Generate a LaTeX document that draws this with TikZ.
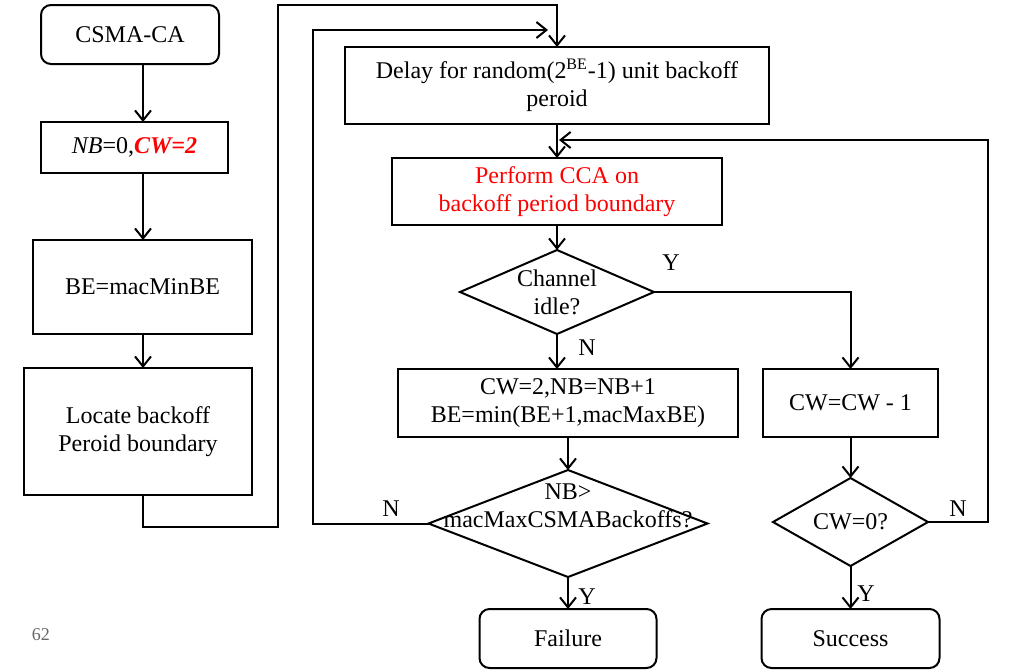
\documentclass[tikz,border=0pt]{standalone}
\usepackage{fontspec}
\setmainfont{Liberation Serif}
\usetikzlibrary{positioning, arrows.meta, shapes.geometric}

\begin{document}
\begin{tikzpicture}[
    x=0.5pt, y=-0.5pt,
    % --- Styles ---
    block/.style={
        rectangle,
        draw=black,
        line width=1pt,
        align=center,
        font=\fontsize{12}{14}\selectfont,
        inner sep=2pt,
        outer sep=0pt
    },
    rblock/.style={
        block,
        rounded corners=5pt
    },
    decision/.style={
        diamond,
        draw=black,
        line width=1pt,
        inner sep=0pt,
        outer sep=0pt
    },
    lbl/.style={
        font=\fontsize{12}{14}\selectfont,
        inner sep=0pt
    },
    arrow/.style={
        -{Straight Barb[length=5pt, width=8pt]},
        line width=1pt
    }
]
\useasboundingbox (0,0) rectangle (1016,671);

% --- Nodes (left column) ---
\node[rblock, minimum width=89pt, minimum height=29.5pt] (start) at (130,34.5) {CSMA-CA};
\node[block, minimum width=93.5pt, minimum height=25.5pt, below=29pt of start, xshift=2.25pt] (init)
    {\textit{NB}=0,\textcolor{red}{\textbf{\textit{CW=2}}}};
\node[block, minimum width=109.5pt, minimum height=47pt, below=33.5pt of init, xshift=4pt] (be) {BE=macMinBE};
\node[block, minimum width=114pt, minimum height=63.5pt, below=17pt of be, xshift=-2.25pt] (locate)
    {Locate backoff\\Peroid boundary};
\coordinate (spine) at (143,0);

% --- Nodes (middle column) ---
\node[block, minimum width=212pt, minimum height=38.5pt] (delay) at (557,85.5)
    {Delay for random(2\textsuperscript{BE}-1) unit backoff\\peroid};
\node[block, minimum width=165pt, minimum height=33.5pt, below=17pt of delay, text=red] (cca)
    {Perform CCA on\\backoff period boundary};
\node[decision, minimum width=97pt, minimum height=42pt, below=12.5pt of cca,
    label={[lbl, align=center]center:Channel\\idle?}] (idle) {};
\node[block, minimum width=170pt, minimum height=34pt, below=17.5pt of idle, xshift=5.5pt] (upd)
    {CW=2,NB=NB+1\\BE=min(BE+1,macMaxBE)};
\node[decision, minimum width=139.5pt, minimum height=53.5pt, below=16.5pt of upd,
    label={[lbl, align=center, yshift=9pt]center:NB>\\macMaxCSMABackoffs?}] (full) {};
\node[rblock, minimum width=88.5pt, minimum height=29.5pt, below=16pt of full] (fail) {Failure};

% --- Nodes (right column) ---
\node[block, minimum width=87.5pt, minimum height=34pt, right=12.5pt of upd] (dec) {CW=CW - 1};
\node[decision, minimum width=77.5pt, minimum height=44pt, below=20.5pt of dec,
    label={[lbl]center:CW=0?}] (zero) {};
\node[rblock, minimum width=89pt, minimum height=29.5pt, below=21.5pt of zero] (succ) {Success};

\coordinate (retry) at (548,30);
\coordinate (join) at (559,140);

% --- Arrows ---
\draw[arrow] (start.south -| spine) -- (init.north -| spine);
\draw[arrow] (init.south -| spine) -- (be.north -| spine);
\draw[arrow] (be.south -| spine) -- (locate.north -| spine);
\draw[arrow] (locate.south -| spine) -- ++(0,32) -| (278,5) -| (delay.north);
\draw[arrow] (delay) -- (cca);
\draw[arrow] (cca) -- (idle);
\draw[arrow] (idle.south) -- (idle.south |- upd.north);
\draw[arrow] (idle.east) -| (dec.north);
\draw[arrow] (upd) -- (full);
\draw[arrow] (full) -- (fail);
\draw[arrow] (full.west) -- ++(-116,0) |- (retry);
\draw[arrow] (dec) -- (zero);
\draw[arrow] (zero) -- (succ);
\draw[arrow] (zero.east) -- ++(60,0) |- (join);

% --- Branch labels ---
\node[lbl] (yidle) at (671,263) {Y};
\node[lbl] (nidle) at (587,348) {N};
\node[lbl] (nfull) at (391,509) {N};
\node[lbl] (yfull) at (587,597) {Y};
\node[lbl] (nzero) at (958,509) {N};
\node[lbl] (yzero) at (866,594) {Y};

% --- Page number ---
\node[font=\fontsize{9}{10}\selectfont, text=black!60, inner sep=0pt] (page) at (41,635) {62};
\end{tikzpicture}
\end{document}
